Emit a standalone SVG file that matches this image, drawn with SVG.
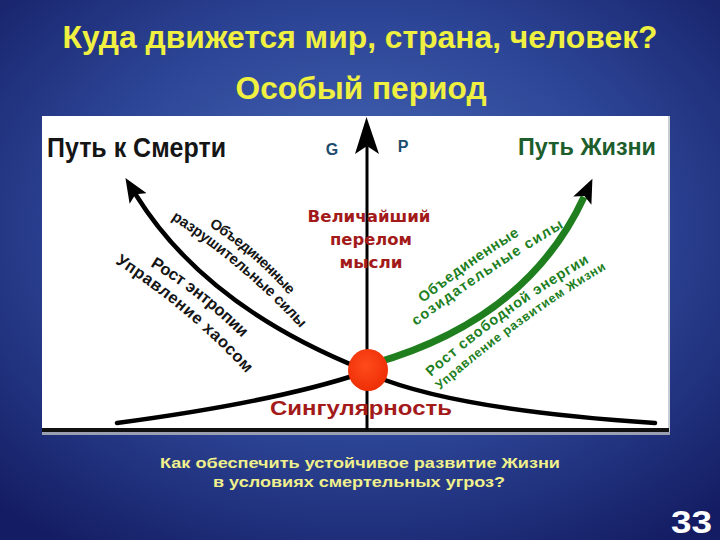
<svg xmlns="http://www.w3.org/2000/svg" width="720" height="540" viewBox="0 0 720 540">
<defs>
<radialGradient id="bg" cx="50%" cy="42%" r="72%">
<stop offset="0" stop-color="#4b6cbb"/>
<stop offset="0.55" stop-color="#2c4495"/>
<stop offset="1" stop-color="#141d63"/>
</radialGradient>
<radialGradient id="dotg" cx="45%" cy="40%" r="60%">
<stop offset="0" stop-color="#ff4c1c"/>
<stop offset="1" stop-color="#ee2e06"/>
</radialGradient>
<marker id="ah" markerUnits="userSpaceOnUse" viewBox="0 0 24 20" refX="4" refY="10" markerWidth="24" markerHeight="20" orient="auto">
<path d="M0,0 L24,10 L0,20 L5,10 Z" fill="#000"/>
</marker>
<path id="t1" d="M209,226 Q253,254 288,294"/>
<path id="t2" d="M171,219 Q242,265 300,328"/>
<path id="t3" d="M150,266 Q200,296 241,337"/>
<path id="t4" d="M115,263 Q187,309 245,372"/>
<path id="t5" d="M423,303 Q469,266 520,235"/>
<path id="t6" d="M416,326 Q488,272 566,226"/>
<path id="t7" d="M431,377 Q504,312 590,262"/>
<path id="t8" d="M440,390 Q518,321 608,268"/>
</defs>
<style>
.t{font-family:"Liberation Sans",Arial,sans-serif;font-weight:bold}
.title{fill:#f0f040;font-size:32px}
.q{fill:#f0f08c;font-size:15px}
.blk{fill:#151515}
.grn{fill:#1d7f22}
.red{fill:#a31a1a}
.wide{font-family:"DejaVu Sans",sans-serif;font-weight:bold}
.curve{fill:none;stroke:#000;stroke-width:4.5;stroke-linecap:round}
</style>
<rect width="720" height="540" fill="url(#bg)"/>
<g id="titles">
<text class="t title" x="360" y="48" text-anchor="middle" textLength="595" lengthAdjust="spacingAndGlyphs">Куда движется мир, страна, человек?</text>
<text class="t title" x="361" y="99" text-anchor="middle" textLength="251" lengthAdjust="spacingAndGlyphs">Особый период</text>
</g>
<g id="panel">
<rect x="42" y="116" width="627" height="318" fill="#fff"/>
<line x1="669" y1="116" x2="669" y2="434" stroke="#c8ccd4" stroke-width="2"/>
<rect x="42" y="432" width="628" height="3" fill="#9aa0b2"/>
<line x1="42" y1="430" x2="669" y2="430" stroke="#111" stroke-width="4"/>
</g>
<g id="connectors">
<line x1="367" y1="430" x2="367" y2="146" stroke="#000" stroke-width="3"/>
<polygon points="366.5,117 355,154 367,146 379,154" fill="#000"/>
<path class="curve" d="M117,423 Q275,402 362,373"/>
<path class="curve" d="M372,375 Q455,410 655,423"/>
<path class="curve" d="M362,369 Q205,306 136,195" marker-end="url(#ah)"/>
<path d="M372,364 Q527,320 584,197" fill="none" stroke="#1f7f1f" stroke-width="7" marker-end="url(#ah)"/>
</g>
<g id="singularity">
<ellipse cx="368" cy="370" rx="20" ry="21" fill="url(#dotg)"/>
<text class="t red" x="361" y="415" font-size="21" text-anchor="middle" textLength="182" lengthAdjust="spacingAndGlyphs">Сингулярность</text>
</g>
<g id="labels">
<text class="t blk" x="47" y="157" font-size="27" textLength="179" lengthAdjust="spacingAndGlyphs">Путь к Смерти</text>
<text class="t" x="518" y="155" font-size="23" fill="#1d5e2c" textLength="138" lengthAdjust="spacingAndGlyphs">Путь Жизни</text>
<text class="t" x="332" y="155" font-size="16" fill="#1d4c6c" text-anchor="middle">G</text>
<text class="t" x="403" y="152" font-size="16" fill="#1d4c6c" text-anchor="middle">P</text>
</g>
<g id="thought">
<text class="wide red" x="369" y="222" font-size="16.5" text-anchor="middle" textLength="123" lengthAdjust="spacingAndGlyphs">Величайший</text>
<text class="wide red" x="371" y="245" font-size="16.5" text-anchor="middle" textLength="82" lengthAdjust="spacingAndGlyphs">перелом</text>
<text class="wide red" x="371" y="268" font-size="16.5" text-anchor="middle" textLength="63" lengthAdjust="spacingAndGlyphs">мысли</text>
</g>
<g id="death-labels" class="t blk">
<text font-size="14.5"><textPath href="#t1" textLength="106">Объединенные</textPath></text>
<text font-size="15"><textPath href="#t2" textLength="170">разрушительные силы</textPath></text>
<text font-size="16.5"><textPath href="#t3" textLength="117">Рост энтропии</textPath></text>
<text font-size="16.5"><textPath href="#t4" textLength="172">Управление хаосом</textPath></text>
</g>
<g id="life-labels" class="t grn">
<text font-size="14.5"><textPath href="#t5" textLength="118">Объединенные</textPath></text>
<text font-size="14.5"><textPath href="#t6" textLength="178">созидательные силы</textPath></text>
<text font-size="14.5"><textPath href="#t7" textLength="196">Рост свободной энергии</textPath></text>
<text font-size="12.5"><textPath href="#t8" textLength="206">Управление развитием Жизни</textPath></text>
</g>
<g id="question">
<text class="t q" x="360" y="468" text-anchor="middle" textLength="400" lengthAdjust="spacingAndGlyphs">Как обеспечить устойчивое развитие Жизни</text>
<text class="t q" x="359" y="487" text-anchor="middle" textLength="292" lengthAdjust="spacingAndGlyphs">в условиях смертельных угроз?</text>
</g>
<text id="page" class="t" x="712" y="533" font-size="31" fill="#fff" text-anchor="end" textLength="41" lengthAdjust="spacingAndGlyphs">33</text>
</svg>
